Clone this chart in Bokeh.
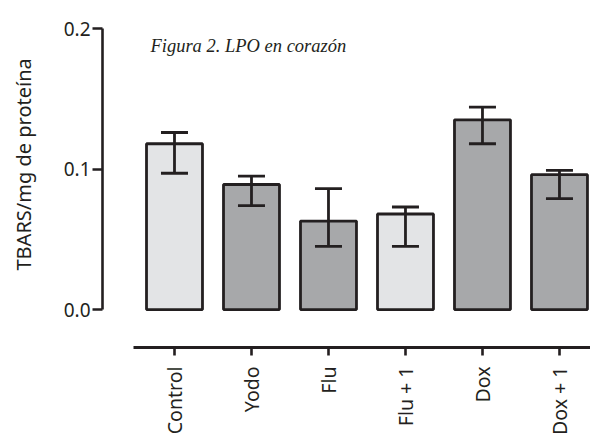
import math
from bokeh.plotting import figure
from bokeh.models import (ColumnDataSource, FixedTicker, Whisker, TeeHead, Label, Title)
from bokeh.embed import file_html
from bokeh.resources import INLINE

# ---- data ----
categories = ["Control", "Yodo", "Flu", "Flu + 1", "Dox", "Dox + 1"]
means = [0.118, 0.089, 0.063, 0.068, 0.135, 0.096]
err_upper = [0.126, 0.095, 0.086, 0.073, 0.144, 0.099]
err_lower = [0.097, 0.074, 0.045, 0.045, 0.118, 0.079]
bar_colors = ["#e3e4e6", "#a7a8aa", "#a7a8aa", "#e3e4e6", "#a7a8aa", "#a7a8aa"]
y_ticks = [0.0, 0.1, 0.2]
y_tick_labels = ["0.0", "0.1", "0.2"]

FONT = "Noto Sans"
INK = "#231f20"

xs = list(range(len(categories)))
src = ColumnDataSource(dict(x=xs, top=means, upper=err_upper, lower=err_lower,
                            color=bar_colors))

p = figure(width=590, height=438, output_backend="svg", toolbar_location=None,
           x_range=(-0.935, 5.403), y_range=(-0.027, 0.2057),
           min_border_left=102, min_border_right=0, min_border_top=20,
           min_border_bottom=91)
p.outline_line_color = None
p.grid.visible = False
p.background_fill_color = "white"
p.border_fill_color = "white"

p.vbar(x="x", top="top", bottom=0, width=0.727, source=src, fill_color="color",
       line_color=INK, line_width=2.8)

w = Whisker(base="x", upper="upper", lower="lower", source=src, level="annotation",
            line_color=INK, line_width=2.8,
            upper_head=TeeHead(size=27, line_width=2.8, line_color=INK),
            lower_head=TeeHead(size=27, line_width=2.8, line_color=INK))
p.add_layout(w)

# y axis
ya = p.yaxis[0]
ya.ticker = FixedTicker(ticks=y_ticks)
ya.major_label_overrides = {t: l for t, l in zip(y_ticks, y_tick_labels)}
ya.bounds = (0, 0.2)
ya.axis_line_width = 2.6
ya.axis_line_color = INK
ya.major_tick_line_width = 2.6
ya.major_tick_line_color = INK
ya.major_tick_out = 10
ya.major_tick_in = 0
ya.minor_tick_line_color = None
ya.major_label_standoff = 2
ya.major_label_text_font = FONT
ya.major_label_text_font_size = "19px"
ya.major_label_text_color = INK
# invisible spacer label to push the rotated title further left
ya.axis_label = " "
ya.axis_label_text_font_size = "1px"
ya.axis_label_standoff = 15

# x axis
xa = p.xaxis[0]
xa.ticker = FixedTicker(ticks=xs)
xa.major_label_overrides = {i: c for i, c in zip(xs, categories)}
xa.bounds = (-0.532, 5.403)
xa.axis_line_width = 3
xa.axis_line_color = INK
xa.major_tick_line_width = 2.6
xa.major_tick_line_color = INK
xa.major_tick_out = 8
xa.major_tick_in = 0
xa.minor_tick_line_color = None
xa.major_label_orientation = math.pi / 2
xa.major_label_standoff = 11
xa.major_label_text_font = FONT
xa.major_label_text_font_size = "19.5px"
xa.major_label_text_color = INK

# y axis title
p.add_layout(Title(text="TBARS/mg de proteína", align="left", offset=77,
                   text_font=FONT, text_font_size="20px", text_font_style="normal",
                   text_color=INK), "left")

# chart title
p.add_layout(Label(x=-0.312, y=0.1872, text="Figura 2. LPO en corazón",
                   text_font="Liberation Serif", text_font_style="italic",
                   text_font_size="18.5px", text_color=INK,
                   text_align="left", text_baseline="alphabetic"))

open("out.html", "w").write(file_html(p, INLINE))
